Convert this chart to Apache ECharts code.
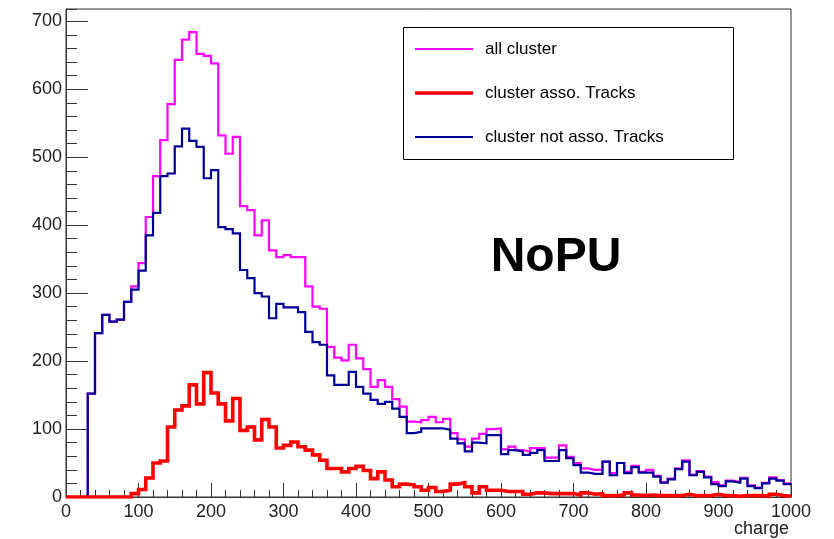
<!DOCTYPE html>
<html>
<head>
<meta charset="utf-8">
<script src="https://cdn.jsdelivr.net/npm/echarts@6/dist/echarts.min.js"></script>
<style>
html,body{margin:0;padding:0;background:#fff;}
#chart{width:834px;height:539px;}
</style>
</head>
<body>
<div id="chart"></div>
<script>
// Histogram: 100 bins of width 10 on charge axis 0..1000
const binLow = 0;
const binWidth = 10;
const xTickLabels = [0,100,200,300,400,500,600,700,800,900,1000];
const yTickLabels = [0,100,200,300,400,500,600,700];
const seriesNames = ['all cluster', 'cluster asso. Tracks', 'cluster not asso. Tracks'];

const allCluster = [
  0,0,0,152,241,268,258,261,287,310,
  344,412,472,525,578,643,673,684,652,649,
  638,532,505,530,428,422,385,407,363,353,
  356,353,353,310,280,277,221,205,201,224,
  204,188,162,172,162,144,133,111,110,113,
  118,110,115,94,85,74,86,93,100,101,
  70,74,69,67,72,72,58,58,76,59,
  50,42,40,40,52,35,50,37,46,37,
  40,31,22,27,42,54,33,38,30,22,
  17,24,22,28,17,14,21,29,25,20
];
const assoTracks = [
  0,0,0,0,0,0,0,0,0,5,
  11,28,50,53,103,128,134,165,137,183,
  153,137,112,145,98,103,84,114,103,72,
  76,81,74,69,62,54,42,42,37,42,
  45,39,27,37,25,15,19,18,15,10,
  14,8,10,19,21,15,6,15,10,10,
  8,8,8,4,6,6,5,5,5,5,
  3,6,4,5,2,2,3,6,3,2,
  3,2,2,2,2,4,2,2,2,4,
  2,2,1,2,2,2,1,4,2,1
];
const notAssoTracks = [
  0,0,0,152,241,268,258,261,287,305,
  333,385,418,472,476,516,542,524,515,469,
  481,397,394,388,334,322,300,295,263,284,
  279,279,272,243,228,224,179,165,165,184,
  162,152,143,137,140,130,118,94,96,101,
  101,101,99,86,79,67,80,79,91,91,
  63,69,67,62,65,69,53,53,69,57,
  47,36,34,34,52,32,50,35,44,36,
  36,30,21,26,41,52,32,37,29,19,
  16,23,21,27,16,13,20,27,24,19
];

const colors = ['#ff00ff', '#ff0000', '#000099'];
const widths = [2.2, 3.6, 2.2];
const FONT = '"Liberation Sans", Arial, Helvetica, sans-serif';

function toSteps(vals) {
  const pts = vals.map((v, i) => [binLow + i * binWidth, v]);
  pts.push([binLow + vals.length * binWidth, vals[vals.length - 1]]);
  return pts;
}

const chart = echarts.init(document.getElementById('chart'), null, {renderer: 'canvas'});
const yMax = 718;

function lineSeries(idx, vals, z) {
  return {
    name: seriesNames[idx], type: 'line', step: 'end', symbol: 'none',
    data: toSteps(vals), z: z, silent: true,
    lineStyle: {color: colors[idx], width: widths[idx], join: 'miter', cap: 'butt'},
    itemStyle: {color: colors[idx]}
  };
}

const legendRows = [49, 93, 137];
const legendGraphics = [{
  type: 'rect', shape: {x: 403.5, y: 27.5, width: 330, height: 132},
  style: {fill: '#fff', stroke: '#000', lineWidth: 1}, z: 100
}];
[0, 1, 2].forEach(i => {
  legendGraphics.push({
    type: 'line', shape: {x1: 415, y1: legendRows[i], x2: 473, y2: legendRows[i]},
    style: {stroke: colors[i], lineWidth: i === 1 ? 3.6 : 2.2}, z: 101
  });
  legendGraphics.push({
    type: 'text', style: {x: 485, y: legendRows[i], text: seriesNames[i], fill: '#000',
      font: '17px ' + FONT, align: 'left', verticalAlign: 'middle'}, z: 101
  });
});

const option = {
  animation: false,
  backgroundColor: '#fff',
  grid: {left: 66, right: 43, top: 9, bottom: 42, show: true, borderColor: '#333', borderWidth: 1, backgroundColor: '#fff'},
  xAxis: {
    type: 'value', min: 0, max: 1000, interval: 100,
    axisLine: {show: true, lineStyle: {color: '#333', width: 1}},
    axisTick: {show: true, inside: true, length: 14, lineStyle: {color: '#333'}},
    minorTick: {show: true, splitNumber: 5, length: 7, lineStyle: {color: '#333'}},
    splitLine: {show: false},
    axisLabel: {fontSize: 18, color: '#222', fontFamily: FONT, margin: 6,
      formatter: v => (xTickLabels.indexOf(v) >= 0 ? String(v) : '')}
  },
  yAxis: [{
    type: 'value', min: 0, max: yMax, interval: 100,
    axisLine: {show: true, lineStyle: {color: '#333', width: 1}},
    axisTick: {show: true, inside: true, length: 22, lineStyle: {color: '#333'}},
    splitLine: {show: false},
    axisLabel: {fontSize: 18, color: '#222', fontFamily: FONT, margin: 4, showMaxLabel: false,
      formatter: v => (yTickLabels.indexOf(v) >= 0 ? String(v) : '')}
  }, {
    type: 'value', min: 0, max: yMax, interval: 20, position: 'left',
    axisLine: {show: false},
    axisTick: {show: true, inside: true, length: 11, lineStyle: {color: '#333'}},
    splitLine: {show: false},
    axisLabel: {show: false}
  }],
  series: [
    lineSeries(0, allCluster, 2),
    lineSeries(2, notAssoTracks, 3),
    lineSeries(1, assoTracks, 4)
  ],
  graphic: legendGraphics.concat([
    {type: 'text', style: {x: 556, y: 258, text: 'NoPU', fill: '#000', font: 'bold 48px ' + FONT,
      align: 'center', verticalAlign: 'middle'}, z: 100},
    {type: 'text', style: {x: 789, y: 529, text: 'charge', fill: '#222', font: '18px ' + FONT,
      align: 'right', verticalAlign: 'middle'}, z: 100}
  ])
};
chart.setOption(option);
</script>
</body>
</html>
